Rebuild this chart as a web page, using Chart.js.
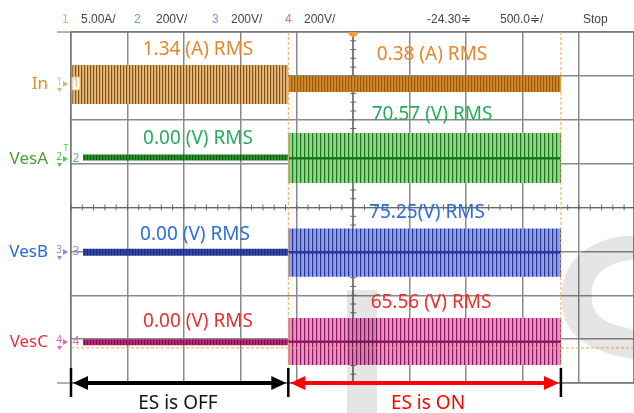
<!DOCTYPE html>
<html>
<head>
<meta charset="utf-8">
<script src="https://cdn.jsdelivr.net/npm/chart.js@4"></script>
<style>
  html, body { margin: 0; padding: 0; background: #fff; }
  #wrap { width: 634px; height: 413px; position: relative; }
</style>
</head>
<body>
<div id="wrap"><canvas id="scope"></canvas></div>
<script>
// screen is 10 div wide (right edge cut off) and 8 div high, centre at 0
const xDivs = [0, 9.975];
const yDivs = [-4, 4];
const cursorX = [3.85, 8.68];      // ES switched on / end of capture
const triggerLevel = -3.2;

const traceNames = ["In", "VesA", "VesB", "VesC"];
const traceStart = [0.02, 0.21, 0.21, 0.21];
const offUpper = [3.25, 1.21, -0.94, -3.0];
const offLower = [2.36, 1.07, -1.10, -3.14];
const onUpper  = [3.0, 1.70, -0.48, -2.52];
const onLower  = [2.63, 0.56, -1.58, -3.59];
const onCentre = [2.81, 1.12, -1.02, -3.06];
const rmsOff = ["1.34 (A) RMS", "0.00 (V) RMS", "0.00 (V) RMS", "0.00 (V) RMS"];
const rmsOn  = ["0.38 (A) RMS", "70.57 (V) RMS", "75.25(V) RMS", "65.56 (V) RMS"];

const headerTexts = ["1", "5.00A/", "2", "200V/", "3", "200V/", "4", "200V/", "-24.30\u2251", "500.0\u2251/", "Stop"];
const stateLabels = ["ES is OFF", "ES is ON"];

// look
const lightCol = ["#e6c38c", "#92d58c", "#909fe2", "#e693ca"];
const darkCol  = ["#9a5a0c", "#1a781a", "#283597", "#8e185a"];
const textCol  = ["#e8862c", "#27ad5c", "#2b6fd9", "#e8302c"];
const nameCol  = ["#e08a30", "#4e9a3a", "#2a68d6", "#e2303e"];
const markCol  = ["#f0b060", "#55c455", "#7f8ee6", "#e462b4"];

function stripes(light, dark, period) {
  const c = document.createElement("canvas");
  c.width = period; c.height = 4;
  const g = c.getContext("2d");
  g.fillStyle = light; g.fillRect(0, 0, period, 4);
  g.fillStyle = dark; g.fillRect(0, 0, 1.2, 4);
  return g.createPattern(c, "repeat");
}

const offFill = [
  stripes("#e3bd85", "#8a4f08", 3),
  stripes("#2a942a", "#0f5e0f", 3),
  stripes("#3447a8", "#1d2a80", 3),
  stripes("#b82a78", "#7a0f4a", 3)
];
const onFill = [
  stripes("#d08a2a", "#9a5a0c", 3),
  stripes(lightCol[1], darkCol[1], 4),
  stripes(lightCol[2], darkCol[2], 4),
  stripes(lightCol[3], darkCol[3], 4)
];

let datasets = [];
traceNames.forEach((name, i) => {
  datasets.push({ label: name + " off", data: [{x: traceStart[i], y: offUpper[i]}, {x: cursorX[0], y: offUpper[i]}],
    borderWidth: 0, pointRadius: 0, fill: false });
  datasets.push({ label: name + " off", data: [{x: traceStart[i], y: offLower[i]}, {x: cursorX[0], y: offLower[i]}],
    borderWidth: 0, pointRadius: 0, fill: "-1", backgroundColor: offFill[i] });
  datasets.push({ label: name + " on", data: [{x: cursorX[0], y: onUpper[i]}, {x: cursorX[1], y: onUpper[i]}],
    borderWidth: 0, pointRadius: 0, fill: false });
  datasets.push({ label: name + " on", data: [{x: cursorX[0], y: onLower[i]}, {x: cursorX[1], y: onLower[i]}],
    borderWidth: 0, pointRadius: 0, fill: "-1", backgroundColor: onFill[i] });
});
// dark middle of the switched-on traces, kept on top of the fills
traceNames.forEach((name, i) => {
  if (i === 0) return;
  datasets.push({ label: name + " centre", data: [{x: cursorX[0], y: onCentre[i]}, {x: cursorX[1], y: onCentre[i]}],
    borderWidth: 2.5, borderColor: darkCol[i], pointRadius: 0, fill: false, order: -1 });
});

const FONT = "'Noto Sans', 'Open Sans', sans-serif";

function arrow(ctx, x1, x2, y, color) {
  const head = 16, hh = 7;
  ctx.save();
  ctx.strokeStyle = color; ctx.fillStyle = color; ctx.lineWidth = 4;
  ctx.beginPath(); ctx.moveTo(x1 + head - 2, y); ctx.lineTo(x2 - head + 2, y); ctx.stroke();
  ctx.beginPath(); ctx.moveTo(x1 + 1, y); ctx.lineTo(x1 + head, y - hh); ctx.lineTo(x1 + head, y + hh); ctx.closePath(); ctx.fill();
  ctx.beginPath(); ctx.moveTo(x2 - 1, y); ctx.lineTo(x2 - head, y - hh); ctx.lineTo(x2 - head, y + hh); ctx.closePath(); ctx.fill();
  ctx.restore();
}

const scopeDecor = {
  id: "scopeDecor",
  beforeDatasetsDraw(chart) {
    const ctx = chart.ctx, a = chart.chartArea;
    const xs = chart.scales.x, ys = chart.scales.y;
    const cx = xs.getPixelForValue(5), cy = ys.getPixelForValue(0);
    ctx.save();
    ctx.strokeStyle = "#666"; ctx.lineWidth = 1;
    // outer frame extensions to the left
    ctx.beginPath();
    ctx.moveTo(57, a.top); ctx.lineTo(a.right, a.top);
    ctx.moveTo(57, a.bottom); ctx.lineTo(a.right, a.bottom);
    ctx.moveTo(a.left, a.top); ctx.lineTo(a.left, a.bottom + 14);
    ctx.stroke();
    // centre cross with minor ticks
    ctx.beginPath();
    ctx.moveTo(cx, a.top); ctx.lineTo(cx, a.bottom);
    ctx.moveTo(a.left, cy); ctx.lineTo(a.right, cy);
    for (let v = -4; v <= 4.001; v += 0.2) {
      const p = ys.getPixelForValue(v);
      ctx.moveTo(cx - 3, p); ctx.lineTo(cx + 3, p);
    }
    for (let v = 0; v <= 10; v += 0.2) {
      const p = xs.getPixelForValue(v);
      ctx.moveTo(p, cy - 3); ctx.lineTo(p, cy + 3);
    }
    ctx.stroke();
    ctx.restore();
  },
  afterDatasetsDraw(chart) {
    const ctx = chart.ctx, a = chart.chartArea;
    const xs = chart.scales.x, ys = chart.scales.y;
    ctx.save();
    // cursors
    ctx.strokeStyle = "#f2a550"; ctx.lineWidth = 1; ctx.setLineDash([3, 2]);
    ctx.beginPath();
    cursorX.forEach(v => { const p = xs.getPixelForValue(v); ctx.moveTo(p, a.top); ctx.lineTo(p, a.bottom); });
    const ty = ys.getPixelForValue(triggerLevel);
    ctx.moveTo(a.left, ty); ctx.lineTo(a.right, ty);
    ctx.stroke();
    ctx.setLineDash([]);
    // trigger position marker
    ctx.fillStyle = "#f0a040";
    ctx.beginPath(); ctx.arc(xs.getPixelForValue(5), a.top, 5, 0, Math.PI); ctx.fill();

    // watermark
    ctx.fillStyle = "rgba(0,0,0,0.1)";
    ctx.fillRect(347, 290, 30, 130);
    ctx.font = "300px 'DejaVu Sans', sans-serif";
    ctx.textAlign = "left"; ctx.textBaseline = "alphabetic";
    ctx.fillText("S", 542, 458);
    ctx.restore();
  },
  afterDraw(chart) {
    const ctx = chart.ctx, a = chart.chartArea;
    const xs = chart.scales.x;
    ctx.save();
    // header line
    ctx.font = "12px 'Liberation Sans Narrow', 'Liberation Sans', sans-serif";
    ctx.textBaseline = "middle"; ctx.textAlign = "left";
    const hx = [62, 81, 134, 156, 212, 231, 285, 304, 427, 500, 583];
    const hc = [markCol[0], "#444", markCol[1], "#444", markCol[2], "#444", markCol[3], "#444", "#444", "#444", "#444"];
    headerTexts.forEach((t, k) => { ctx.fillStyle = hc[k]; ctx.fillText(t, hx[k], 20); });

    // channel names and markers
    const chanY = [84, 159, 252, 342];
    traceNames.forEach((n, i) => {
      const y = chanY[i];
      ctx.font = "17px " + FONT; ctx.textAlign = "right"; ctx.fillStyle = nameCol[i];
      ctx.fillText(n, 48, y);
      ctx.fillStyle = markCol[i];
      ctx.font = "10px " + FONT; ctx.textAlign = "center";
      ctx.fillText(String(i + 1), 59, y - 2);
      ctx.beginPath(); ctx.moveTo(63, y - 3); ctx.lineTo(68, y); ctx.lineTo(63, y + 3); ctx.fill();
      ctx.beginPath(); ctx.moveTo(57, y + 4); ctx.lineTo(62, y + 4); ctx.lineTo(59.5, y + 8); ctx.fill();
      if (i === 0) {
        ctx.fillStyle = "#fff"; ctx.fillRect(72, y - 7, 8, 13);
        ctx.strokeStyle = markCol[0]; ctx.lineWidth = 1; ctx.strokeRect(72, y - 7, 8, 13);
        ctx.fillStyle = markCol[0];
      }
      ctx.font = "12px " + FONT;
      ctx.fillText(String(i + 1), 76, y);
    });
    ctx.fillStyle = markCol[1]; ctx.font = "9px " + FONT; ctx.textAlign = "center";
    ctx.fillText("T", 66, 148);

    // RMS readouts
    ctx.font = "19px " + FONT; ctx.textAlign = "center";
    const offPos = [[198, 50], [198, 139], [195, 235], [198, 322]];
    const onPos = [[432, 55], [432, 115], [427, 213], [431, 303]];
    traceNames.forEach((n, i) => {
      ctx.fillStyle = textCol[i];
      ctx.fillText(rmsOff[i], offPos[i][0], offPos[i][1]);
      ctx.fillText(rmsOn[i], onPos[i][0], onPos[i][1]);
    });

    // ES state arrows
    const x0 = a.left, x1 = xs.getPixelForValue(cursorX[0]), x2 = xs.getPixelForValue(cursorX[1]);
    const ay = a.bottom;
    arrow(ctx, x0 + 1, x1 - 1, ay, "#000");
    arrow(ctx, x1 + 1, x2 - 1, ay, "#f00");
    ctx.strokeStyle = "#000"; ctx.lineWidth = 2.5;
    ctx.beginPath();
    [x0, x1, x2].forEach(p => { ctx.moveTo(p, ay - 15); ctx.lineTo(p, ay + 14); });
    ctx.stroke();
    ctx.font = "19px " + FONT;
    ctx.fillStyle = "#111"; ctx.fillText(stateLabels[0], 178, 404);
    ctx.fillStyle = "#f00"; ctx.fillText(stateLabels[1], 428, 404);
    ctx.restore();
  }
};

new Chart(document.getElementById("scope"), {
  type: "line",
  data: { datasets: datasets },
  plugins: [scopeDecor],
  options: {
    responsive: true,
    maintainAspectRatio: false,
    animation: false,
    layout: { padding: { left: 71, top: 32, right: 0, bottom: 30 } },
    plugins: { legend: { display: false }, tooltip: { enabled: false } },
    scales: {
      x: {
        type: "linear", min: xDivs[0], max: xDivs[1],
        ticks: { display: false, stepSize: 1 },
        grid: { color: "#8a8a8a", lineWidth: 1.5, drawTicks: false },
        border: { display: false }
      },
      y: {
        min: yDivs[0], max: yDivs[1],
        ticks: { display: false, stepSize: 1 },
        grid: { color: "#8a8a8a", lineWidth: 1.5, drawTicks: false },
        border: { display: false }
      }
    }
  }
});
</script>
</body>
</html>
